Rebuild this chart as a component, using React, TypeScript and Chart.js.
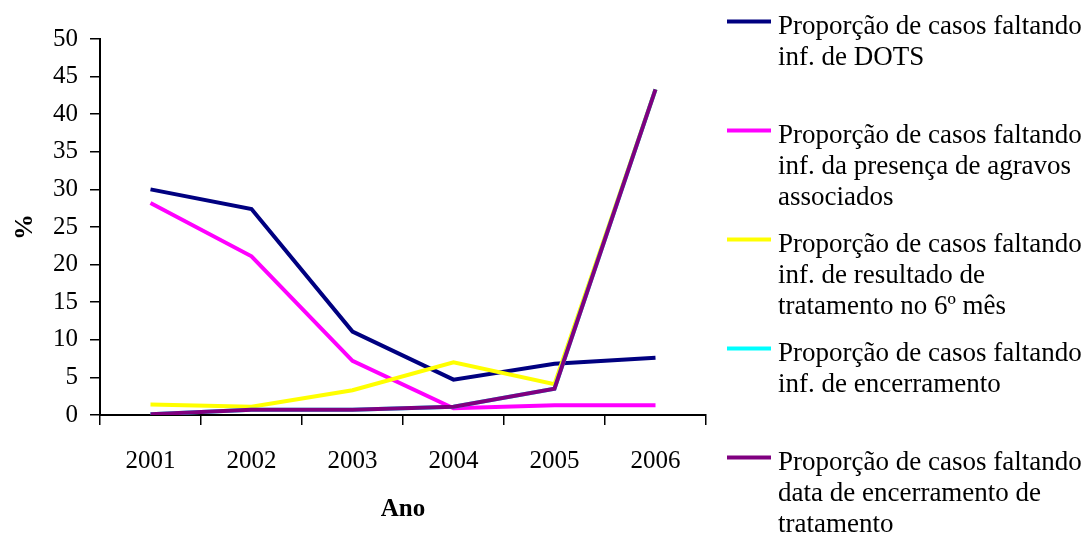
import React, { useEffect, useRef } from "react";
import { Chart, registerables } from "chart.js";

Chart.register(...registerables);

// Years on the category axis
const years = ["2001", "2002", "2003", "2004", "2005", "2006"];

// Percentage of cases with missing information, per year
const semDots = [30.0, 27.4, 11.1, 4.7, 6.8, 7.6];
const semAgravos = [28.2, 21.1, 7.2, 0.9, 1.3, 1.3];
const semResultado6Mes = [1.4, 1.1, 3.3, 7.0, 4.1, 43.3];
const semEncerramento = [0.1, 0.7, 0.7, 1.1, 3.5, 43.3];
const semDataEncerramento = [0.1, 0.7, 0.7, 1.1, 3.5, 43.3];

// Value axis range and step
const yMin = 0;
const yMax = 50;
const yStep = 5;

// Legend text, one array of lines per series
const legendDots = ["Proporção de casos faltando", "inf. de DOTS"];
const legendAgravos = ["Proporção de casos faltando", "inf. da presença de agravos", "associados"];
const legendResultado = ["Proporção de casos faltando", "inf. de resultado de", "tratamento no 6º mês"];
const legendEncerramento = ["Proporção de casos faltando", "inf. de encerramento"];
const legendDataEncerramento = ["Proporção de casos faltando", "data de encerramento de", "tratamento"];

const seriesValues = [semDots, semAgravos, semResultado6Mes, semEncerramento, semDataEncerramento];
const seriesLegend = [legendDots, legendAgravos, legendResultado, legendEncerramento, legendDataEncerramento];
const seriesColors = ["#000080", "#FF00FF", "#FFFF00", "#00FFFF", "#800080"];

const FONT = "'Liberation Serif', 'Times New Roman', serif";

// Multi-line legend drawn to the right of the plot
const sideLegend = {
  id: "sideLegend",
  afterDraw(chart: any) {
    const ctx = chart.ctx as CanvasRenderingContext2D;
    const x0 = 727;
    const x1 = 771;
    const textX = 778;
    const firstLineY = 21.5;
    const itemStep = 109;
    const textOffset = 5;
    const lineStep = 31;
    ctx.save();
    ctx.font = `27px ${FONT}`;
    ctx.textBaseline = "middle";
    ctx.textAlign = "left";
    chart.data.datasets.forEach((ds: any, i: number) => {
      const y = firstLineY + i * itemStep;
      ctx.strokeStyle = ds.borderColor;
      ctx.lineWidth = 4;
      ctx.beginPath();
      ctx.moveTo(x0, y);
      ctx.lineTo(x1, y);
      ctx.stroke();
      ctx.fillStyle = "#000";
      (ds.legendLines as string[]).forEach((t, j) => {
        ctx.fillText(t, textX, y + textOffset + j * lineStep);
      });
    });
    ctx.restore();
  },
};

export default function App() {
  const canvasRef = useRef<HTMLCanvasElement | null>(null);

  useEffect(() => {
    if (!canvasRef.current) return;
    const n = seriesValues.length;
    const chart = new Chart(canvasRef.current, {
      type: "line",
      data: {
        labels: years,
        datasets: seriesValues.map((vals, i) => ({
          label: seriesLegend[i].join(" "),
          legendLines: seriesLegend[i],
          data: vals,
          borderColor: seriesColors[i],
          backgroundColor: seriesColors[i],
          borderWidth: 4,
          pointRadius: 0,
          tension: 0,
          fill: false,
          order: n - i,
        })) as any,
      },
      options: {
        responsive: false,
        animation: false,
        events: [],
        layout: { padding: { left: 0, top: 39, right: 382, bottom: 0 } },
        plugins: {
          legend: { display: false },
          tooltip: { enabled: false },
          title: { display: false },
        },
        scales: {
          x: {
            type: "category",
            offset: true,
            afterFit(scale: any) {
              scale.height = 121;
            },
            grid: {
              display: true,
              offset: true,
              drawOnChartArea: false,
              drawTicks: true,
              tickLength: 10,
              color: "#000",
              lineWidth: 1.5,
            },
            border: { display: true, color: "#000", width: 2 },
            ticks: {
              color: "#000",
              font: { family: FONT, size: 25 },
              padding: 21,
              maxRotation: 0,
              autoSkip: false,
            },
            title: {
              display: true,
              text: "Ano",
              color: "#000",
              font: { family: FONT, size: 25, weight: "bold" },
              padding: { top: 0, bottom: 11 },
            },
          },
          y: {
            min: yMin,
            max: yMax,
            afterFit(scale: any) {
              scale.width = 100;
            },
            grid: {
              display: true,
              drawOnChartArea: false,
              drawTicks: true,
              tickLength: 10,
              color: "#000",
              lineWidth: 1.5,
            },
            border: { display: true, color: "#000", width: 2 },
            ticks: {
              stepSize: yStep,
              color: "#000",
              font: { family: FONT, size: 25 },
              padding: 12,
            },
            title: {
              display: true,
              text: "%",
              color: "#000",
              font: { family: FONT, size: 26, weight: "bold" },
              padding: { top: 10, bottom: 0 },
            },
          },
        },
      },
      plugins: [sideLegend],
    });
    return () => chart.destroy();
  }, []);

  return (
    <div style={{ position: "absolute", left: 0, top: 0, width: 1088, height: 536, background: "#fff" }}>
      <canvas ref={canvasRef} width={1088} height={536} style={{ display: "block" }} />
    </div>
  );
}
